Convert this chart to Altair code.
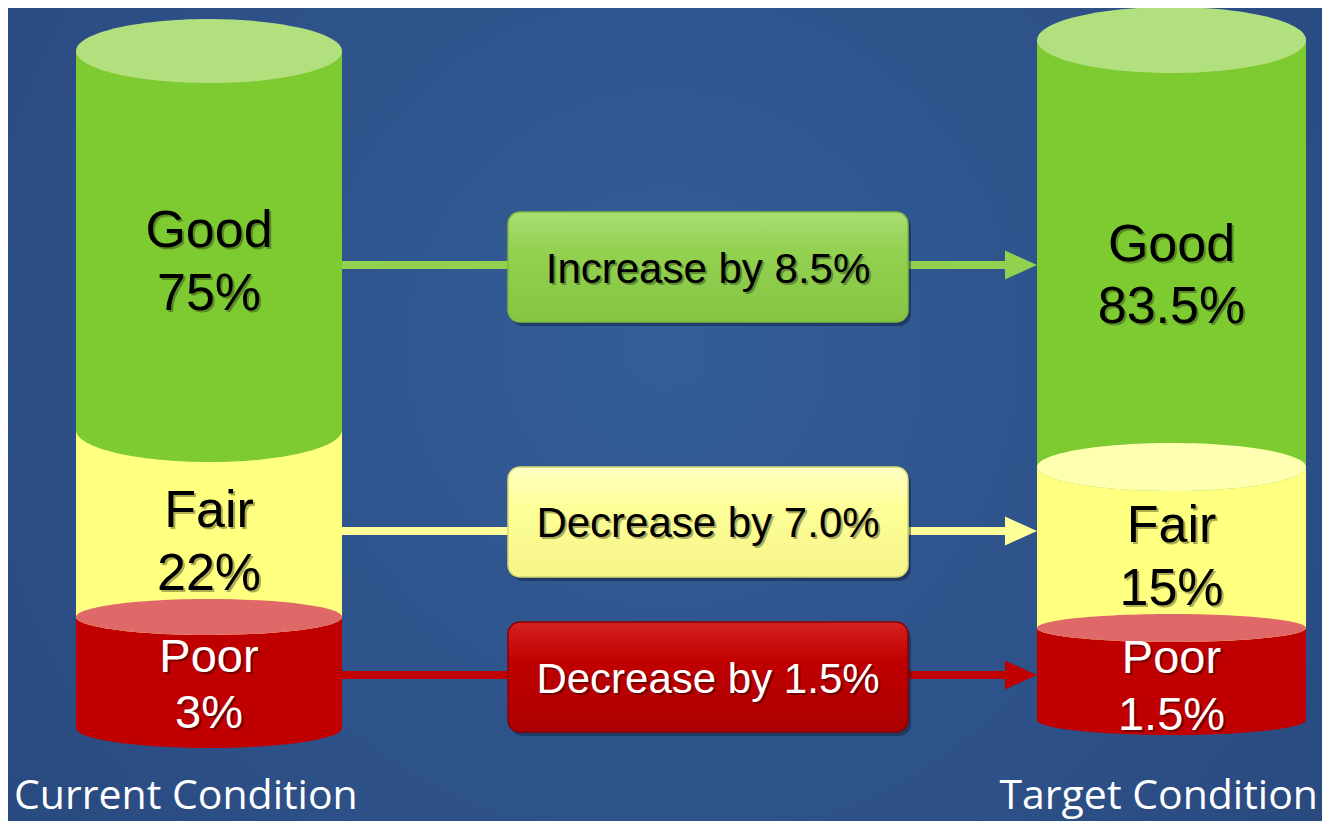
import altair as alt
import pandas as pd

# ---------------- data ----------------
categories = ["Good", "Fair", "Poor"]
current_values = [75, 22, 3]
target_values = [83.5, 15, 1.5]
change_words = ["Increase", "Decrease", "Decrease"]
change_values = [8.5, 7.0, 1.5]
panel_titles = ["Current Condition", "Target Condition"]

# ---------------- styles ----------------
body_colors = {"Good": "#7dca31", "Fair": "#ffff80", "Poor": "#c00000"}
top_colors = {"Good": "#b3e07f", "Fair": "#ffffb0", "Poor": "#df6868"}
text_colors = {"Good": "#000000", "Fair": "#000000", "Poor": "#ffffff"}
shadow_colors = {"Good": "#3c5a1c", "Fair": "#6a6a2a", "Poor": "#3a0000"}
line_colors = {"Good": "#92d050", "Fair": "#ffff99", "Poor": "#c00000"}
box_stops = {
    "Good": ["#a9de72", "#93d151", "#86c444"],
    "Fair": ["#ffffc4", "#ffff99", "#f4f488"],
    "Poor": ["#d42222", "#c00000", "#ac0000"],
}
box_strokes = {"Good": "#7fb840", "Fair": "#d8d870", "Poor": "#8a0000"}
label_sizes = {"Good": 52, "Fair": 52, "Poor": 47}
FONT = "Liberation Sans"

# ---------------- layout (page pixel frame) ----------------
W, H, OFF = 1314, 813, 8
sides = ["current", "target"]
cyl_x = {"current": (76, 342), "target": (1037, 1306)}
# per segment: (top y, bottom y, top ellipse half-height, top ellipse visible)
seg_layout = {
    "current": {"Good": (51, 430, 32, True), "Fair": (430, 617, 32, False), "Poor": (617, 728, 18, True)},
    "target": {"Good": (40, 467, 33, True), "Fair": (467, 628, 24, True), "Poor": (628, 720, 14, True)},
}
base_ry = {"current": 20, "target": 15}
label_baselines = {
    "current": {"Good": (247, 310), "Fair": (527, 590), "Poor": (672, 728)},
    "target": {"Good": (261, 323), "Fair": (542, 605), "Poor": (673, 730)},
}
box_x = (508, 908)
box_y = {"Good": (212, 322), "Fair": (467, 577), "Poor": (622, 732)}
line_y = {"Good": 265, "Fair": 531, "Poor": 675}
box_text_base = {"Good": 283, "Fair": 537, "Poor": 693}
arrow_w = 32
title_pos = {"current": (14, 809, "left"), "target": (1318, 809, "right")}

xs = alt.Scale(domain=[OFF, OFF + W], nice=False, zero=False)
ys = alt.Scale(domain=[OFF, OFF + H], nice=False, zero=False, reverse=True)


def X(f):
    return alt.X(f, type="quantitative", scale=xs, axis=None)


def Y(f):
    return alt.Y(f, type="quantitative", scale=ys, axis=None)


def ellipse_path(r):
    k = 0.5523
    return (f"M-1,0 C-1,{-k*r:.4f} {-k:.4f},{-r:.4f} 0,{-r:.4f} "
            f"C{k:.4f},{-r:.4f} 1,{-k*r:.4f} 1,0 "
            f"C1,{k*r:.4f} {k:.4f},{r:.4f} 0,{r:.4f} "
            f"C{-k:.4f},{r:.4f} -1,{k*r:.4f} -1,0 Z")


def fmt(v):
    return f"{v:g}%"


values_by_side = {"current": current_values, "target": target_values}

# ---------------- tables ----------------
rect_rows, bottom_rows, top_rows, text_rows = [], [], [], []
for s in sides:
    x0, x1 = cyl_x[s]
    w = x1 - x0
    cx = (x0 + x1) / 2
    for i, c in enumerate(categories):
        yt, yb, ry, vis = seg_layout[s][c]
        rect_rows.append(dict(x0=x0, x1=x1, y0=yt, y1=yb, fill=body_colors[c]))
        nxt = categories[i + 1] if i + 1 < len(categories) else None
        bry = seg_layout[s][nxt][2] if nxt else base_ry[s]
        bottom_rows.append(dict(cx=cx, cy=yb, size=w * w, shape=ellipse_path(2 * bry / w),
                                fill=body_colors[c]))
        if vis:
            top_rows.append(dict(cx=cx, cy=yt, size=w * w, shape=ellipse_path(2 * ry / w),
                                 fill=top_colors[c]))
        b1, b2 = label_baselines[s][c]
        for txt, yy in ((c, b1), (fmt(values_by_side[s][i]), b2)):
            text_rows.append(dict(x=cx, y=yy, text=txt, color=text_colors[c],
                                  shadow=shadow_colors[c], fs=label_sizes[c]))

rect_df = pd.DataFrame(rect_rows)
bottom_df = pd.DataFrame(bottom_rows)
top_df = pd.DataFrame(top_rows)
text_df = pd.DataFrame(text_rows)
shadow_df = text_df.assign(x=text_df.x + 2, y=text_df.y + 2)

line_rows, arrow_rows, btext_rows = [], [], []
for i, c in enumerate(categories):
    yl = line_y[c]
    line_rows.append(dict(x0=cyl_x["current"][1], x1=box_x[0], y=yl, color=line_colors[c]))
    line_rows.append(dict(x0=box_x[1], x1=cyl_x["target"][0] - arrow_w + 4, y=yl, color=line_colors[c]))
    arrow_rows.append(dict(x=cyl_x["target"][0] - arrow_w / 2, y=yl, color=line_colors[c]))
    btext_rows.append(dict(x=(box_x[0] + box_x[1]) / 2, y=box_text_base[c],
                           text=f"{change_words[i]} by {change_values[i]:.1f}%",
                           color=text_colors[c], shadow=shadow_colors[c]))
line_df = pd.DataFrame(line_rows)
arrow_df = pd.DataFrame(arrow_rows)
btext_df = pd.DataFrame(btext_rows)
bshadow_df = btext_df.assign(x=btext_df.x + 2, y=btext_df.y + 2)

# ---------------- layers ----------------
layers = []

bg = alt.Chart(pd.DataFrame({"a": [0]})).mark_rect(
    fill={"gradient": "radial", "x1": 0.5, "y1": 0.45, "r1": 0, "x2": 0.5, "y2": 0.45, "r2": 0.75,
          "stops": [{"offset": 0, "color": "#345d98"}, {"offset": 1, "color": "#27467a"}]}
).encode(x=alt.value(0), x2=alt.value(W), y=alt.value(0), y2=alt.value(H))
layers.append(bg)

rects = alt.Chart(rect_df).mark_rect(strokeWidth=0).encode(
    x=X("x0"), x2=alt.X2("x1"), y=Y("y0"), y2=alt.Y2("y1"),
    fill=alt.Fill("fill:N", scale=None))
layers.append(rects)

bottoms = alt.Chart(bottom_df).mark_point(filled=True, opacity=1, strokeWidth=0).encode(
    x=X("cx"), y=Y("cy"), size=alt.Size("size:Q", scale=None),
    shape=alt.Shape("shape:N", scale=None), fill=alt.Fill("fill:N", scale=None))
layers.append(bottoms)

tops = alt.Chart(top_df).mark_point(filled=True, opacity=1, strokeWidth=0).encode(
    x=X("cx"), y=Y("cy"), size=alt.Size("size:Q", scale=None),
    shape=alt.Shape("shape:N", scale=None), fill=alt.Fill("fill:N", scale=None))
layers.append(tops)

for df, col in ((shadow_df, "shadow"), (text_df, "color")):
    for fs in sorted(set(text_df.fs)):
        sub = df[df.fs == fs]
        layers.append(alt.Chart(sub).mark_text(
            font=FONT, fontSize=int(fs), baseline="alphabetic", align="center",
            opacity=0.55 if col == "shadow" else 1).encode(
            x=X("x"), y=Y("y"), text="text:N", fill=alt.Fill(f"{col}:N", scale=None)))

lines = alt.Chart(line_df).mark_rule(strokeWidth=8).encode(
    x=X("x0"), x2=alt.X2("x1"), y=Y("y"), stroke=alt.Stroke("color:N", scale=None))
layers.append(lines)

arrows = alt.Chart(arrow_df).mark_point(
    filled=True, opacity=1, strokeWidth=0, shape="M-1,-0.9 L1,0 L-1,0.9 Z", size=arrow_w ** 2).encode(
    x=X("x"), y=Y("y"), fill=alt.Fill("color:N", scale=None))
layers.append(arrows)

for c in categories:
    row = pd.DataFrame([dict(x0=box_x[0], x1=box_x[1], y0=box_y[c][0], y1=box_y[c][1])])
    layers.append(alt.Chart(row.assign(x0=row.x0 + 3, x1=row.x1 + 3, y0=row.y0 + 4, y1=row.y1 + 4))
                  .mark_rect(cornerRadius=12, fill="#0a1a33", opacity=0.45).encode(
        x=X("x0"), x2=alt.X2("x1"), y=Y("y0"), y2=alt.Y2("y1")))
    st = box_stops[c]
    layers.append(alt.Chart(row).mark_rect(
        cornerRadius=12, stroke=box_strokes[c], strokeWidth=1.5,
        fill={"gradient": "linear", "x1": 0, "y1": 0, "x2": 0, "y2": 1,
              "stops": [{"offset": 0, "color": st[0]}, {"offset": 0.35, "color": st[1]},
                        {"offset": 1, "color": st[2]}]}).encode(
        x=X("x0"), x2=alt.X2("x1"), y=Y("y0"), y2=alt.Y2("y1")))

for df, col in ((bshadow_df, "shadow"), (btext_df, "color")):
    layers.append(alt.Chart(df).mark_text(
        font=FONT, fontSize=42, baseline="alphabetic", align="center",
        opacity=0.55 if col == "shadow" else 1).encode(
        x=X("x"), y=Y("y"), text="text:N", fill=alt.Fill(f"{col}:N", scale=None)))

for k, s in enumerate(sides):
    tx, ty, al = title_pos[s]
    tdf = pd.DataFrame([dict(x=tx, y=ty, text=panel_titles[k])])
    layers.append(alt.Chart(tdf).mark_text(
        font="Open Sans", fontSize=41, baseline="alphabetic", align=al, fill="#ffffff").encode(
        x=X("x"), y=Y("y"), text="text:N"))

chart = alt.layer(*layers).properties(
    width=W, height=H, padding=0, background="#2c4c84",
    autosize=alt.AutoSizeParams(type="none"),
).configure_view(stroke=None, strokeWidth=0)

chart.save("out.html", embed_options={"renderer": "svg", "actions": False})
